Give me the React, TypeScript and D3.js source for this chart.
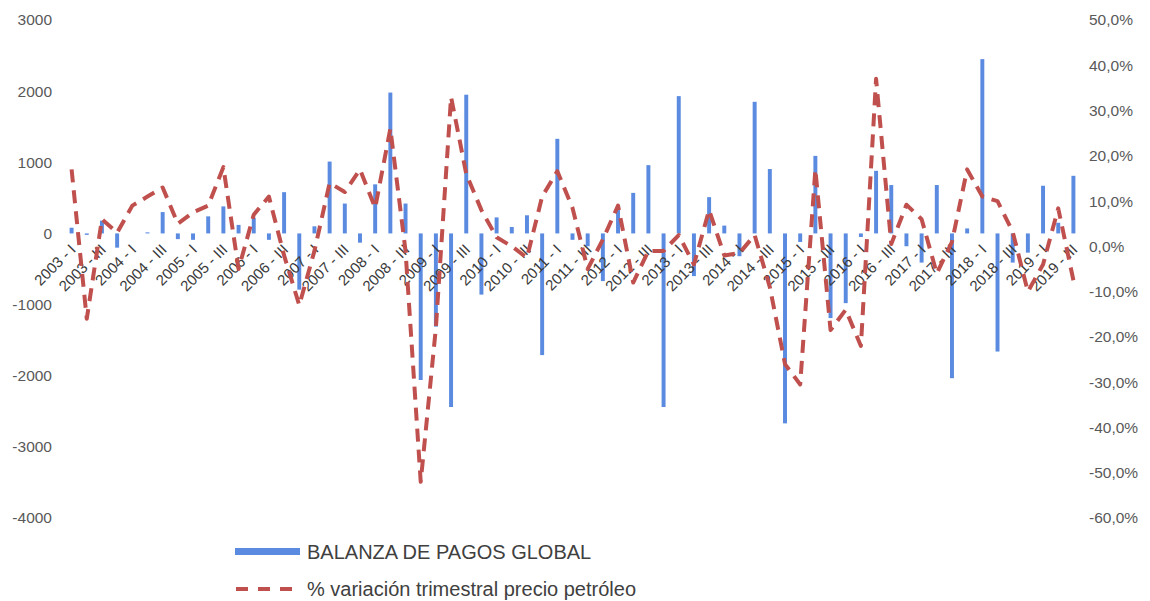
import React, { useEffect, useRef } from "react";
import * as d3 from "d3";

// quarters 2003-I .. 2019-III
const quarters = [
  "2003 - I", "2003 - II", "2003 - III", "2003 - IV",
  "2004 - I", "2004 - II", "2004 - III", "2004 - IV",
  "2005 - I", "2005 - II", "2005 - III", "2005 - IV",
  "2006 - I", "2006 - II", "2006 - III", "2006 - IV",
  "2007 - I", "2007 - II", "2007 - III", "2007 - IV",
  "2008 - I", "2008 - II", "2008 - III", "2008 - IV",
  "2009 - I", "2009 - II", "2009 - III", "2009 - IV",
  "2010 - I", "2010 - II", "2010 - III", "2010 - IV",
  "2011 - I", "2011 - II", "2011 - III", "2011 - IV",
  "2012 - I", "2012 - II", "2012 - III", "2012 - IV",
  "2013 - I", "2013 - II", "2013 - III", "2013 - IV",
  "2014 - I", "2014 - II", "2014 - III", "2014 - IV",
  "2015 - I", "2015 - II", "2015 - III", "2015 - IV",
  "2016 - I", "2016 - II", "2016 - III", "2016 - IV",
  "2017 - I", "2017 - II", "2017 - III", "2017 - IV",
  "2018 - I", "2018 - II", "2018 - III", "2018 - IV",
  "2019 - I", "2019 - II", "2019 - III",
];

// BALANZA DE PAGOS GLOBAL
const balanza = [
  80, -20, 180, -200, 0, 15, 300, -80, -90, 240,
  380, 120, 220, -90, 580, -790, 100, 1010, 420, -130,
  690, 1980, 420, -2060, -1310, -2440, 1950, -860, 225, 90,
  255, -1710, 1330, -90, -180, -670, 400, 570, 960, -2440,
  1930, -600, 510, 110, -320, 1850, 905, -2670, -120, 1090,
  -1190, -980, -50, 880, 680, -180, -410, 680, -2035, 70,
  2450, -1660, -410, -270, 670, 150, 810,
];

// % variación trimestral precio petróleo
const petroleo = [
  17, -16, 6, 3, 9, 11, 13, 5, 7.5, 9,
  17.5, -5, 7, 11, -2, -13, -1, 14, 12, 17,
  8.5, 26, -1, -52, -18, 33, 16, 8, 2, 0,
  -2.5, 11, 16.6, 8.5, -5, 1.5, 9, -8, -1, -1,
  2.5, -4, 8, -2, -1.5, 2.5, -9, -26, -30.5, 17,
  -18.5, -14, -22, 37, 0.5, 9.2, 6, -6, 1, 17,
  11, 10, 3.2, -10, -4, 8.4, -7.5,
];

const leftTicks = [3000, 2000, 1000, 0, -1000, -2000, -3000, -4000];
const rightTicks = [0.5, 0.4, 0.3, 0.2, 0.1, 0, -0.1, -0.2, -0.3, -0.4, -0.5, -0.6];

const legendLabels = ["BALANZA DE PAGOS GLOBAL", "% variación trimestral precio petróleo"];

const BLUE = "#5a8be0";
const RED = "#c0504d";

const App = () => {
  const ref = useRef<SVGSVGElement | null>(null);

  useEffect(() => {
    const svg = d3.select(ref.current!);
    svg.selectAll("*").remove();

    const left = 64, right = 1081, top = 20, bottom = 518;

    const x = d3.scaleBand<string>().domain(quarters).range([left, right]).paddingInner(0.74).paddingOuter(0.37);
    const yL = d3.scaleLinear().domain([-4000, 3000]).range([bottom, top]);
    const yR = d3.scaleLinear().domain([-0.6, 0.5]).range([bottom, top]);
    const cx = (q: string) => (x(q) as number) + x.bandwidth() / 2;

    const font = "'Liberation Sans', Arial, sans-serif";

    // left axis
    const gl = svg.append("g").attr("transform", `translate(${left},0)`)
      .call(d3.axisLeft(yL).tickValues(leftTicks).tickSize(0).tickPadding(12).tickFormat((d) => String(d)));
    gl.select(".domain").remove();
    gl.selectAll("text").attr("font-family", font).attr("font-size", 15.5).attr("fill", "#595959");

    // right axis
    const fmt = (v: number) => (v * 100).toFixed(1).replace(".", ",") + "%";
    const gr = svg.append("g").attr("transform", `translate(${right},0)`)
      .call(d3.axisRight(yR).tickValues(rightTicks).tickSize(0).tickPadding(8).tickFormat((d) => fmt(d as number)));
    gr.select(".domain").remove();
    gr.selectAll("text").attr("font-family", font).attr("font-size", 15.5).attr("fill", "#595959");

    // bars
    svg.append("g").selectAll("rect").data(balanza).join("rect")
      .attr("x", (_, i) => x(quarters[i]) as number)
      .attr("width", x.bandwidth())
      .attr("y", (d) => yL(Math.max(0, d)))
      .attr("height", (d) => Math.abs(yL(d) - yL(0)))
      .attr("fill", BLUE);

    // category labels (every other quarter)
    const y0 = yL(0);
    svg.append("g").selectAll("text")
      .data(quarters.filter((_, i) => i % 2 === 0)).join("text")
      .attr("transform", (q) => `translate(${cx(q) + 5},${y0 + 17}) rotate(-45)`)
      .attr("text-anchor", "end")
      .attr("font-family", font).attr("font-size", 15).attr("fill", "#3a3a3a")
      .text((q) => q);

    // dashed line
    const line = d3.line<number>().x((_, i) => cx(quarters[i])).y((d) => yR(d / 100));
    svg.append("path").datum(petroleo)
      .attr("d", line)
      .attr("fill", "none")
      .attr("stroke", RED)
      .attr("stroke-width", 4)
      .attr("stroke-dasharray", "13 8")
      .attr("stroke-linejoin", "round");

    // legend
    const lg = svg.append("g");
    lg.append("rect").attr("x", 235).attr("y", 548).attr("width", 65).attr("height", 7).attr("fill", BLUE);
    lg.append("line").attr("x1", 236).attr("x2", 292).attr("y1", 589).attr("y2", 589)
      .attr("stroke", RED).attr("stroke-width", 4).attr("stroke-dasharray", "12 10");
    lg.selectAll("text").data(legendLabels).join("text")
      .attr("x", 307).attr("y", (_, i) => 559 + i * 37)
      .attr("font-family", font).attr("font-size", 20).attr("fill", "#404040")
      .text((d) => d);
  }, []);

  return (
    <svg ref={ref} width={1150} height={601}
      style={{ position: "absolute", left: 0, top: 0, background: "#fff" }} />
  );
};

export default App;
